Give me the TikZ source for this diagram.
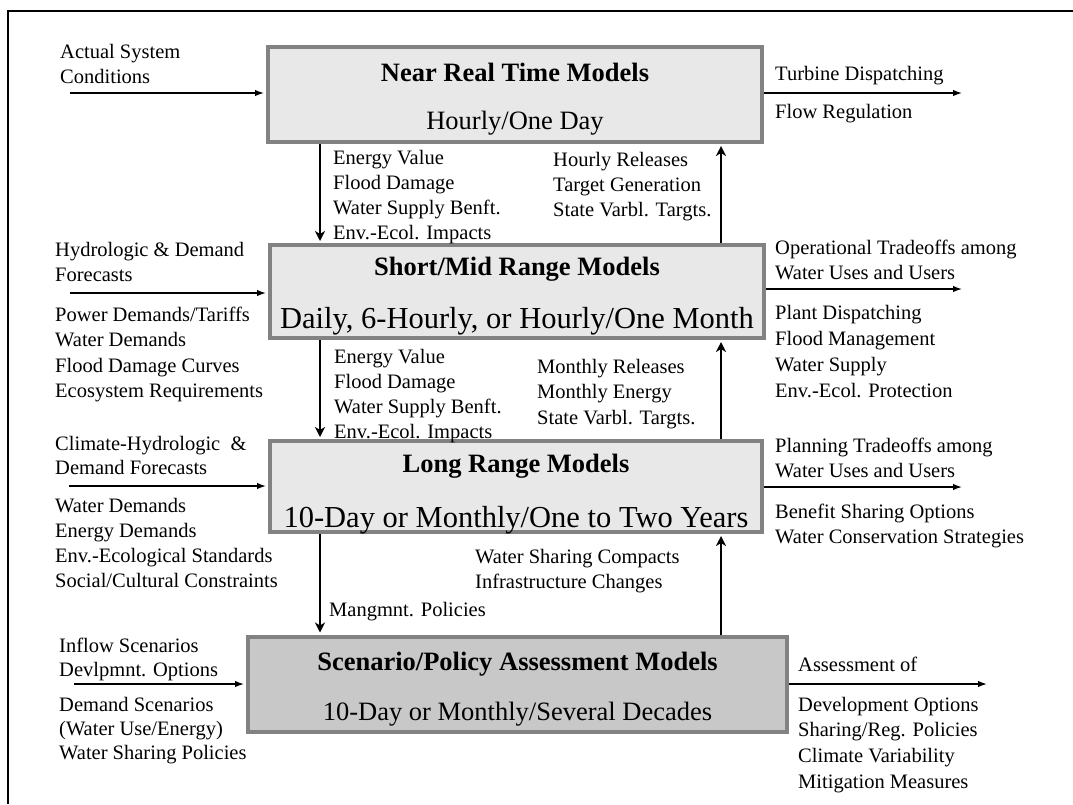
\documentclass[tikz,border=0pt]{standalone}
\usepackage{fontspec}
\setmainfont{Liberation Serif}
\usetikzlibrary{arrows.meta}
\definecolor{boxfillA}{RGB}{232,232,232}
\definecolor{boxfillB}{RGB}{200,200,200}
\definecolor{boxline}{RGB}{130,130,130}
\begin{document}
\begin{tikzpicture}[x=1pt,y=-1pt,
  lst/.style={font=\fontsize{20.5pt}{25pt}\selectfont, inner sep=0pt, anchor=base west},
  ttl/.style={font=\fontsize{26.5pt}{30pt}\selectfont\bfseries, inner sep=0pt, anchor=base},
  sub/.style={font=\fontsize{26.5pt}{30pt}\selectfont, inner sep=0pt, anchor=base},
  subbig/.style={font=\fontsize{30.5pt}{34pt}\selectfont, inner sep=0pt, anchor=base},
  box/.style={draw=boxline, line width=4pt, fill=boxfillA, inner sep=0pt},
  flow/.style={line width=2.6pt, shorten >=2pt, -{Stealth[length=10pt,width=10pt,inset=3pt]}},
  io/.style={line width=1.4pt, -{Latex[length=9pt,width=6.5pt]}}]
\useasboundingbox (0,0) rectangle (1073,804);
\draw[line width=2pt] (8,804) -- (8,11) -- (1073,11);

% boxes
\node[box, minimum width=494pt, minimum height=95pt] (b1) at (515,94.5) {};
\node[box, minimum width=494pt, minimum height=93pt] (b2) at (517,291.5) {};
\node[box, minimum width=492pt, minimum height=91pt] (b3) at (516,486.5) {};
\node[box, fill=boxfillB, minimum width=539pt, minimum height=95pt] (b4) at (517.5,684) {};

\node[ttl] (t1) at (515,81) {Near Real Time Models};
\node[sub] (s1) at (515,129) {Hourly/One Day};
\node[ttl] (t2) at (517,275) {Short/Mid Range Models};
\node[subbig] (s2) at (517,328) {Daily, 6-Hourly, or Hourly/One Month};
\node[ttl] (t3) at (516,472) {Long Range Models};
\node[subbig] (s3) at (516,527) {10-Day or Monthly/One to Two Years};
\node[ttl] (t4) at (517.5,670) {Scenario/Policy Assessment Models};
\node[sub] (s4) at (517.5,720) {10-Day or Monthly/Several Decades};

% vertical flows
\coordinate (dx) at (320,0);
\coordinate (ux) at (721,0);
\draw[flow] (b1.south -| dx) -- (b2.north -| dx);
\draw[flow] (b2.north -| ux) -- (b1.south -| ux);
\draw[flow] (b2.south -| dx) -- (b3.north -| dx);
\draw[flow] (b3.north -| ux) -- (b2.south -| ux);
\draw[flow] (b3.south -| dx) -- (b4.north -| dx);
\draw[flow] (b4.north -| ux) -- (b3.south -| ux);

% inputs / outputs
\coordinate (i1) at (70,93);
\coordinate (i2) at (70,293);
\coordinate (i3) at (69,486);
\coordinate (i4) at (74,684);
\coordinate (o1) at (962,93);
\coordinate (o2) at (962,289);
\coordinate (o3) at (962,487);
\coordinate (o4) at (987,684);
\draw[io, shorten >=2pt] (i1) -- (i1 -| b1.west);
\draw[io, shorten >=2pt] (i2) -- (i2 -| b2.west);
\draw[io, shorten >=2pt] (i3) -- (i3 -| b3.west);
\draw[io, shorten >=2pt] (i4) -- (i4 -| b4.west);
\draw[io] (b1.east |- o1) -- (o1);
\draw[io] (b2.east |- o2) -- (o2);
\draw[io] (b3.east |- o3) -- (o3);
\draw[io] (b4.east |- o4) -- (o4);

% left texts
\foreach \t [count=\i] in {Actual System, Conditions}
  \node[lst] (la\i) at (60,{58+25*(\i-1)}) {\t};
\foreach \t [count=\i] in {Hydrologic \& Demand, Forecasts}
  \node[lst] (lb\i) at (55,{256+25*(\i-1)}) {\t};
\foreach \t [count=\i] in {Power Demands/Tariffs, Water Demands, Flood Damage Curves, Ecosystem Requirements}
  \node[lst] (lc\i) at (55,{321+25.5*(\i-1)}) {\t};
\foreach \t [count=\i] in {Climate-Hydrologic\ \ \&, Demand Forecasts}
  \node[lst] (ld\i) at (55,{450+24*(\i-1)}) {\t};
\foreach \t [count=\i] in {Water Demands, Energy Demands, Env.-Ecological Standards, Social/Cultural Constraints}
  \node[lst] (le\i) at (55,{512+25.3*(\i-1)}) {\t};
\foreach \t [count=\i] in {Inflow Scenarios, Devlpmnt. Options}
  \node[lst] (lf\i) at (59,{652+24*(\i-1)}) {\t};
\foreach \t [count=\i] in {Demand Scenarios, (Water Use/Energy), Water Sharing Policies}
  \node[lst] (lg\i) at (59,{711+24*(\i-1)}) {\t};

% right texts
\node[lst] (ra1) at (775,80) {Turbine Dispatching};
\node[lst] (rb1) at (775,118) {Flow Regulation};
\foreach \t [count=\i] in {Operational Tradeoffs among, Water Uses and Users}
  \node[lst] (rc\i) at (775,{254+25*(\i-1)}) {\t};
\foreach \t [count=\i] in {Plant Dispatching, Flood Management, Water Supply, Env.-Ecol. Protection}
  \node[lst] (rd\i) at (775,{319+26*(\i-1)}) {\t};
\foreach \t [count=\i] in {Planning Tradeoffs among, Water Uses and Users}
  \node[lst] (re\i) at (775,{452+25*(\i-1)}) {\t};
\foreach \t [count=\i] in {Benefit Sharing Options, Water Conservation Strategies}
  \node[lst] (rf\i) at (775,{518+25*(\i-1)}) {\t};
\node[lst] (rg1) at (798,671) {Assessment of};
\foreach \t [count=\i] in {Development Options, Sharing/Reg. Policies, Climate Variability, Mitigation Measures}
  \node[lst] (rh\i) at (798,{711+25.7*(\i-1)}) {\t};

% middle texts
\foreach \t [count=\i] in {Energy Value, Flood Damage, Water Supply Benft., Env.-Ecol. Impacts}
  \node[lst] (ma\i) at (333,{164+25*(\i-1)}) {\t};
\foreach \t [count=\i] in {Hourly Releases, Target Generation, State Varbl. Targts.}
  \node[lst] (mb\i) at (553,{166+25*(\i-1)}) {\t};
\foreach \t [count=\i] in {Energy Value, Flood Damage, Water Supply Benft., Env.-Ecol. Impacts}
  \node[lst] (mc\i) at (334,{363+25.3*(\i-1)}) {\t};
\foreach \t [count=\i] in {Monthly Releases, Monthly Energy, State Varbl. Targts.}
  \node[lst] (md\i) at (537,{373+25.5*(\i-1)}) {\t};
\foreach \t [count=\i] in {Water Sharing Compacts, Infrastructure Changes}
  \node[lst] (me\i) at (475,{563+25*(\i-1)}) {\t};
\node[lst] (mf1) at (329,616) {Mangmnt. Policies};
\end{tikzpicture}
\end{document}
